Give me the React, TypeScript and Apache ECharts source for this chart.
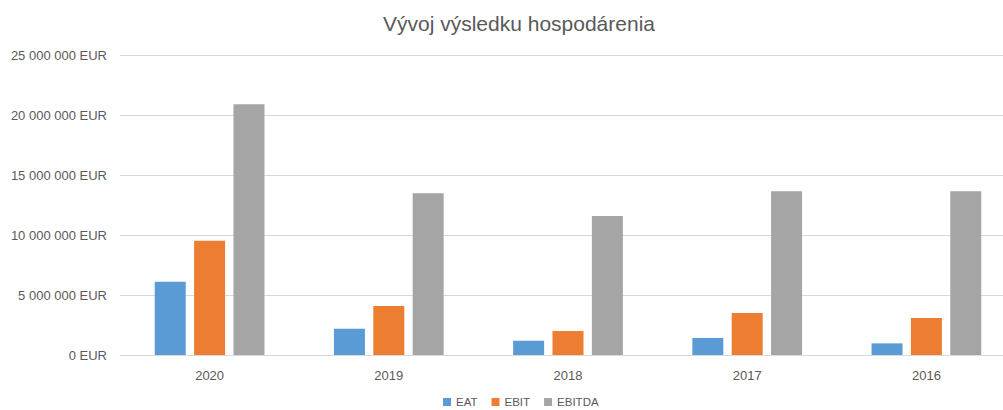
import React, { useEffect, useRef } from "react";
import * as echarts from "echarts";

const categories = ["2020", "2019", "2018", "2017", "2016"];
const seriesNames = ["EAT", "EBIT", "EBITDA"];
const eat = [6100000, 2190000, 1190000, 1420000, 970000];
const ebit = [9520000, 4080000, 2000000, 3500000, 3080000];
const ebitda = [20900000, 13470000, 11580000, 13640000, 13640000];
const colors = ["#5B9BD5", "#ED7D31", "#A5A5A5"];

const fmt = (v: number) =>
  String(Math.round(v)).replace(/\B(?=(\d{3})+(?!\d))/g, " ") + " EUR";

export default function App() {
  const ref = useRef<HTMLDivElement>(null);
  useEffect(() => {
    if (!ref.current) return;
    const chart = echarts.init(ref.current, undefined, { renderer: "svg" });
    const font = "'Liberation Sans', Arial, sans-serif";
    const data = [eat, ebit, ebitda];
    chart.setOption({
      animation: false,
      textStyle: { fontFamily: font },
      title: {
        text: "Vývoj výsledku hospodárenia",
        left: 514,
        textAlign: "center",
        top: 8,
        textStyle: { fontSize: 21, fontWeight: "normal", color: "#595959", fontFamily: font },
      },
      legend: {
        top: 396,
        left: 443,
        padding: 0,
        itemWidth: 8,
        itemHeight: 8,
        itemGap: 14,
        icon: "rect",
        textStyle: { fontSize: 11.5, color: "#595959", fontFamily: font },
        data: seriesNames,
      },
      grid: { left: 120, right: 0, top: 55, bottom: 55, containLabel: false },
      xAxis: {
        type: "category",
        data: categories,
        axisLine: { lineStyle: { color: "#D9D9D9" } },
        axisTick: { show: false },
        axisLabel: { color: "#595959", fontSize: 13, margin: 14, fontFamily: font },
      },
      yAxis: {
        type: "value",
        min: 0,
        max: 25000000,
        interval: 5000000,
        axisLine: { show: false },
        axisTick: { show: false },
        splitLine: { lineStyle: { color: "#D9D9D9" } },
        axisLabel: { color: "#595959", fontSize: 13, margin: 13, formatter: fmt, fontFamily: font },
      },
      series: seriesNames.map((name, i) => ({
        name,
        type: "bar",
        data: data[i],
        barWidth: 31,
        barGap: "27%",
        itemStyle: { color: colors[i] },
      })),
    });
    return () => chart.dispose();
  }, []);
  return (
    <div style={{ position: "fixed", left: 0, top: 0, width: 1003, height: 410, overflow: "hidden", background: "#fff" }}>
      <div ref={ref} style={{ position: "absolute", left: 0, top: 0, width: 1016, height: 410 }} />
    </div>
  );
}
